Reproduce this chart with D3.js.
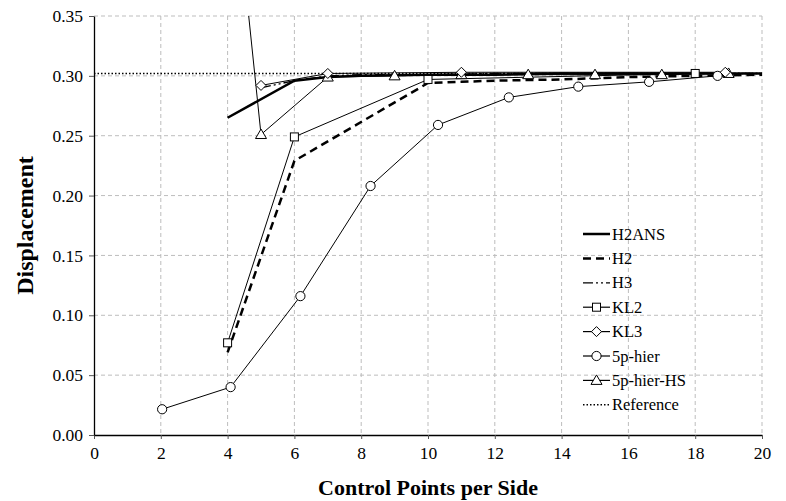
<!DOCTYPE html>
<html><head><meta charset="utf-8">
<script src="https://cdn.jsdelivr.net/npm/d3@7"></script>
<style>
body{margin:0;background:#fff;}
svg text{font-family:"Liberation Serif","Times New Roman",serif;fill:#000;}
</style></head>
<body><svg id="c" width="786" height="501"></svg>
<script>
const xTicks = [0,2,4,6,8,10,12,14,16,18,20];
const yTicks = [0,0.05,0.10,0.15,0.20,0.25,0.30,0.35];

const h2ansX = [4,6,7,8,10,12,14,16,18,20];
const h2ansY = [0.265,0.296,0.299,0.300,0.301,0.301,0.302,0.302,0.302,0.302];
const h2X = [4,6,10,11,12,14,16,18,20];
const h2Y = [0.069,0.229,0.294,0.295,0.296,0.297,0.299,0.300,0.301];
const h3X = [5,6,7,8,10,12,14,16,18,20];
const h3Y = [0.290,0.296,0.300,0.301,0.301,0.302,0.302,0.302,0.302,0.302];
const kl2X = [4,6,10,18];
const kl2Y = [0.077,0.249,0.297,0.302];
const kl3X = [5,7,11,18.9];
const kl3Y = [0.292,0.302,0.303,0.303];
const hierX = [2.04,4.09,6.18,8.28,10.3,12.42,14.5,16.62,18.67];
const hierY = [0.0215,0.040,0.116,0.208,0.259,0.282,0.291,0.295,0.300];
const hsX = [4,5,7,9,11,13,15,17,19];
const hsY = [0.52,0.251,0.299,0.300,0.301,0.301,0.301,0.301,0.302];
const refValue = 0.302;

const seriesNames = ["H2ANS","H2","H3","KL2","KL3","5p-hier","5p-hier-HS","Reference"];

const svg = d3.select("#c");
const L=94, R=762, T=16, B=435;
const x = d3.scaleLinear().domain([0,20]).range([L,R]);
const y = d3.scaleLinear().domain([0,0.35]).range([B,T]);

svg.append("defs").append("clipPath").attr("id","clip")
  .append("rect").attr("x",L).attr("y",T).attr("width",R-L).attr("height",B-T);

// grid
const grid = svg.append("g").attr("stroke","#bdbdbd").attr("stroke-width",1).attr("stroke-dasharray","4,3");
xTicks.filter(d=>d>0).forEach(d=>grid.append("line").attr("x1",x(d)).attr("x2",x(d)).attr("y1",T).attr("y2",B));
yTicks.filter(d=>d>0).forEach(d=>grid.append("line").attr("x1",L).attr("x2",R).attr("y1",y(d)).attr("y2",y(d)));

// axes
const xa = svg.append("g").attr("transform",`translate(0,${B})`)
  .call(d3.axisBottom(x).tickValues(xTicks).tickFormat(d3.format("d")).tickSize(4).tickSizeOuter(0));
const ya = svg.append("g").attr("transform",`translate(${L},0)`)
  .call(d3.axisLeft(y).tickValues(yTicks).tickFormat(d3.format(".2f")).tickSize(5).tickSizeOuter(0));
[xa,ya].forEach(a=>{a.select(".domain").attr("stroke","#000").attr("stroke-width",1.3);
  a.selectAll(".tick line").attr("stroke","#555");
  a.selectAll("text").style("font-family","Liberation Serif, serif").style("font-size","17.5px").attr("fill","#000");});
xa.selectAll("text").attr("dy","0.95em");
ya.selectAll("text").attr("dx","-3px");

svg.append("text").attr("x",(L+R)/2).attr("y",495).attr("text-anchor","middle")
  .style("font-size","22px").style("font-weight","bold").text("Control Points per Side");
svg.append("text").attr("transform",`translate(33,${(T+B)/2}) rotate(-90)`).attr("text-anchor","middle")
  .style("font-size","24px").style("font-weight","bold").text("Displacement");

const plot = svg.append("g").attr("clip-path","url(#clip)");
const line = d3.line().x(d=>x(d[0])).y(d=>y(d[1]));
const zip=(a,b)=>a.map((v,i)=>[v,b[i]]);

const styles = {
  "H2ANS":{w:2.5,dash:null},
  "H2":{w:2.5,dash:"8,5"},
  "H3":{w:1.3,dash:"10,3,2,3,2,3"},
  "KL2":{w:1,dash:null,m:"square"},
  "KL3":{w:1,dash:null,m:"diamond"},
  "5p-hier":{w:1,dash:null,m:"circle"},
  "5p-hier-HS":{w:1,dash:null,m:"triangle"},
  "Reference":{w:1.6,dash:"1.5,2"}
};
const data = {
  "H2ANS":zip(h2ansX,h2ansY),"H2":zip(h2X,h2Y),"H3":zip(h3X,h3Y),"KL2":zip(kl2X,kl2Y),
  "KL3":zip(kl3X,kl3Y),"5p-hier":zip(hierX,hierY),"5p-hier-HS":zip(hsX,hsY),
  "Reference":[[0,refValue],[20,refValue]]
};
function marker(g,type,cx,cy){
  if(!type) return;
  let s;
  if(type==="circle") s=g.append("circle").attr("cx",cx).attr("cy",cy).attr("r",4.6);
  else if(type==="square") s=g.append("rect").attr("x",cx-4).attr("y",cy-4).attr("width",8).attr("height",8);
  else if(type==="diamond") s=g.append("path").attr("d",`M${cx},${cy-5}L${cx+5},${cy}L${cx},${cy+5}L${cx-5},${cy}Z`);
  else if(type==="triangle") s=g.append("path").attr("d",`M${cx},${cy-5.5}L${cx+5.5},${cy+4}L${cx-5.5},${cy+4}Z`);
  s.attr("fill","#fff").attr("stroke","#000").attr("stroke-width",1);
}
const order = ["Reference","5p-hier","KL2","5p-hier-HS","KL3","H2","H3","H2ANS"];
order.forEach(n=>{
  const st=styles[n];
  plot.append("path").datum(data[n]).attr("d",line).attr("fill","none").attr("stroke","#000")
    .attr("stroke-width",st.w).attr("stroke-dasharray",st.dash);
});
order.forEach(n=>{
  const st=styles[n];
  if(st.m) data[n].forEach(d=>{ if(d[1]<=0.35) marker(plot,st.m,x(d[0]),y(d[1])); });
});

// legend
const lg = svg.append("g");
seriesNames.forEach((n,i)=>{
  const st=styles[n]; const yy=234+i*24.4;
  lg.append("line").attr("x1",583).attr("x2",610).attr("y1",yy).attr("y2",yy).attr("stroke","#000")
    .attr("stroke-width",st.w>2?2.5:(n==="Reference"?1.6:1.2)).attr("stroke-dasharray",st.dash);
  marker(lg,st.m,596.5,yy);
  lg.append("text").attr("x",612).attr("y",yy+5.5).style("font-size","16.5px").text(n);
});
</script></body></html>
